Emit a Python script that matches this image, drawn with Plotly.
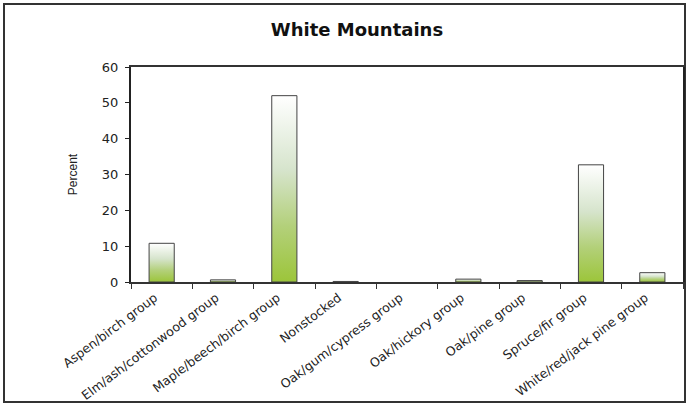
import plotly.graph_objects as go

categories = [
    "Aspen/birch group",
    "Elm/ash/cottonwood group",
    "Maple/beech/birch group",
    "Nonstocked",
    "Oak/gum/cypress group",
    "Oak/hickory group",
    "Oak/pine group",
    "Spruce/fir group",
    "White/red/jack pine group",
]
percent = [10.8, 0.6, 52.0, 0.15, 0.0, 0.8, 0.4, 32.7, 2.6]

half_w = 0.205
green_fade = [[0, "#9cc53a"], [0.3, "#b3d07a"], [0.6, "#d6e4cc"], [1, "#ffffff"]]

fig = go.Figure()

# each bar is a filled outline so it can carry a vertical gradient
for i, v in enumerate(percent):
    if v <= 0:
        continue
    fig.add_trace(go.Scatter(
        x=[i - half_w, i - half_w, i + half_w, i + half_w, i - half_w],
        y=[0, v, v, 0, 0],
        mode="lines",
        fill="toself",
        fillgradient=dict(type="vertical", colorscale=green_fade),
        line=dict(color="#444444", width=1),
        hoverinfo="skip",
        showlegend=False,
    ))

fig.update_layout(
    width=689,
    height=406,
    margin=dict(l=131, r=6, t=67, b=124),
    paper_bgcolor="white",
    plot_bgcolor="white",
    font=dict(family="DejaVu Sans, Liberation Sans, Arial, sans-serif", size=12, color="#222222"),
    title=dict(
        text="<b>White Mountains</b>",
        x=357 / 689, xanchor="center",
        y=1 - 30 / 406, yanchor="middle",
        font=dict(size=18, color="#111111"),
    ),
    xaxis=dict(
        range=[-0.5, 8.5],
        tickmode="array",
        tickvals=list(range(len(categories))),
        ticktext=categories,
        tickangle=-37,
        ticks="",
        ticklabelshift=-7,
        ticklabelstandoff=2,
        minor=dict(tick0=-0.5, dtick=1, ticks="outside", ticklen=5, tickcolor="#333333"),
        showgrid=False,
        showline=True, linecolor="#333333", linewidth=1.5, mirror=True,
        zeroline=False,
        automargin=False,
        tickfont=dict(size=12.5),
    ),
    yaxis=dict(
        range=[0, 60],
        dtick=10,
        ticks="outside", ticklen=4, tickcolor="#222222",
        ticklabelstandoff=4,
        showgrid=False,
        showline=True, linecolor="#222222", linewidth=2, mirror=True,
        zeroline=False,
        automargin=False,
        title=dict(text="Percent", standoff=22,
                   font=dict(family="Liberation Sans, Arial", size=12)),
        tickfont=dict(size=13),
    ),
    shapes=[dict(
        type="rect", xref="paper", yref="paper",
        x0=(4 - 131) / 552, x1=(685 - 131) / 552,
        y0=(282 - 402) / 215, y1=(282 - 4) / 215,
        line=dict(color="#333333", width=2),
        fillcolor="rgba(0,0,0,0)",
        layer="below",
    )],
)

fig.write_html("out.html", config={"displayModeBar": False},
               post_script="document.body.style.margin='0px';")
